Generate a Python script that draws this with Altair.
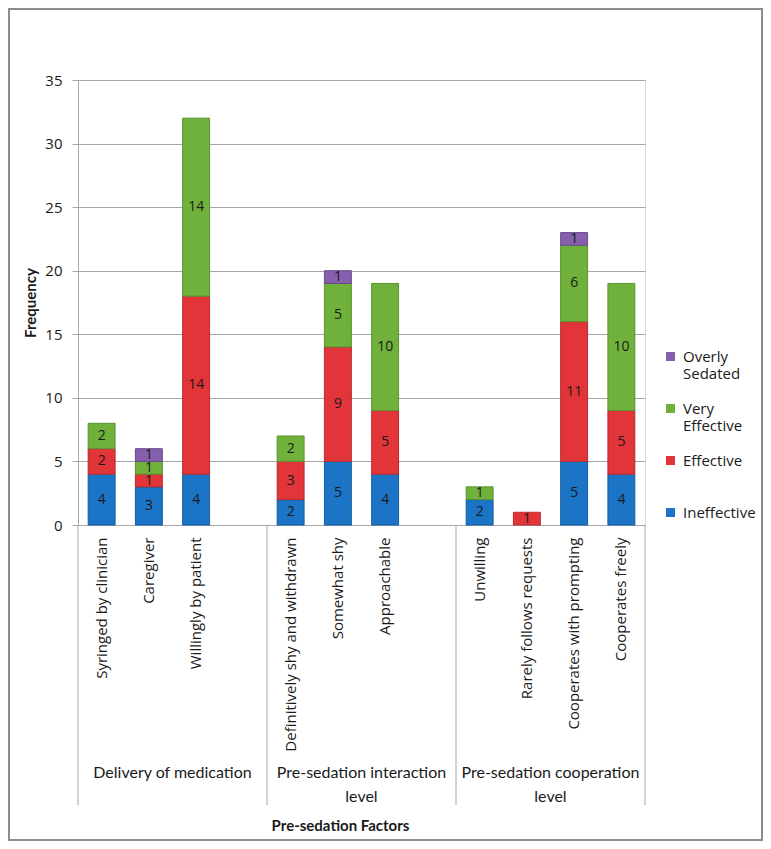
import altair as alt
import pandas as pd

# ---- data ----
groups = ["Delivery of medication",
          "Pre-sedation interaction\nlevel",
          "Pre-sedation cooperation\nlevel"]
group_members = [
    ["Syringed by clinician", "Caregiver", "Willingly by patient"],
    ["Definitively shy and withdrawn", "Somewhat shy", "Approachable"],
    ["Unwilling", "Rarely follows requests", "Cooperates with prompting", "Cooperates freely"],
]
series = ["Ineffective", "Effective", "Very Effective", "Overly Sedated"]
ineffective    = [4, 3, 4, 2, 5, 4, 2, 0, 5, 4]
effective      = [2, 1, 14, 3, 9, 5, 0, 1, 11, 5]
very_effective = [2, 1, 14, 2, 5, 10, 1, 0, 6, 10]
overly_sedated = [0, 1, 0, 0, 1, 0, 0, 0, 1, 0]
colors = ["#1B74C5", "#E2353A", "#6FB13A", "#8560AE"]
edge_colors = ["#155E9F", "#B92A2E", "#5A9130", "#6A4A8D"]
y_ticks = [0, 5, 10, 15, 20, 25, 30, 35]

# ---- build tables ----
categories = [c for g in group_members for c in g]
values_by_series = [ineffective, effective, very_effective, overly_sedated]
rows = []
for si, (s, vals) in enumerate(zip(series, values_by_series)):
    for c, v in zip(categories, vals):
        rows.append({"category": c, "series": s, "order": si, "value": v})
df = pd.DataFrame(rows)

slots_per_group = max(len(g) for g in group_members)
slot_domain = []
for gi, g in enumerate(group_members):
    slot_domain += g + [" " * (gi * slots_per_group + k + 1) for k in range(slots_per_group - len(g))]
n_slots = len(slot_domain)
boundaries = [i * slots_per_group for i in range(len(group_members) + 1)]
centers = [i * slots_per_group + slots_per_group / 2 for i in range(len(group_members))]
sep_df = pd.DataFrame({"pos": boundaries})
grp_df = pd.DataFrame({"center": centers, "group": groups})

GRID = "#A6A6A6"
TXT = "#1a1a1a"
W, H = 567, 445

base = (alt.Chart(df)
        .transform_filter("datum.value > 0")
        .transform_stack(stack="value", groupby=["category"], as_=["y0", "y1"],
                         sort=[alt.SortField("order", order="ascending")])
        .transform_calculate(ymid="(datum.y0 + datum.y1) / 2"))

x_scale = alt.Scale(domain=slot_domain, paddingInner=0.43, paddingOuter=0.215)
x_axis = alt.Axis(title="Pre-sedation Factors", labelAngle=270, labelAlign="right",
                  labelBaseline="middle", labelPadding=12, ticks=False,
                  domainColor=GRID, labelFont="Open Sans", labelFontSize=15,
                  labelColor=TXT, labelLimit=400, titleFont="Lato",
                  titleFontWeight="bold", titleFontSize=15, titleColor=TXT,
                  titleX=262, titleY=300, titleBaseline="middle", titleAlign="center")
y_scale = alt.Scale(domain=[0, 35])
y_axis = alt.Axis(values=y_ticks, title="Frequency", gridColor=GRID, domainColor=GRID,
                  tickColor=GRID, tickSize=6, labelPadding=10, labelFont="Open Sans",
                  labelFontSize=15, labelColor=TXT, titleFont="Lato", titleFontSize=15,
                  titleFontWeight="bold", titleColor=TXT, titlePadding=6)

bars = base.mark_bar(strokeWidth=1).encode(
    x=alt.X("category:N", scale=x_scale, axis=x_axis),
    y=alt.Y("y0:Q", scale=y_scale, axis=y_axis),
    y2="y1:Q",
    color=alt.Color("series:N", scale=alt.Scale(domain=series, range=colors),
                    legend=alt.Legend(orient="none", legendX=585, legendY=269,
                                      values=list(reversed(series)), title=None,
                                      symbolType="square", symbolSize=81, symbolStrokeWidth=0,
                                      labelFont="Open Sans", labelFontSize=15, labelColor=TXT,
                                      labelOffset=5, padding=0, rowPadding=19,
                                      labelExpr="indexof(datum.label, ' ') > 0 ? split(datum.label, ' ') : [datum.label, ' ']")),
    stroke=alt.Stroke("series:N", scale=alt.Scale(domain=series, range=edge_colors), legend=None),
)

labels = base.mark_text(font="Open Sans", fontSize=14, color=TXT, baseline="middle").encode(
    x=alt.X("category:N", scale=x_scale, axis=x_axis),
    y=alt.Y("ymid:Q", scale=y_scale, axis=y_axis),
    text="value:Q",
)

main = alt.layer(bars, labels)

sep = alt.Chart(sep_df).mark_rule(color=GRID).encode(
    x=alt.X("pos:Q", scale=alt.Scale(domain=[0, n_slots]), axis=None),
    y=alt.value(H), y2=alt.value(H + 280),
)

grp = alt.Chart(grp_df).mark_text(font="Lato", fontSize=16, lineBreak="\n", lineHeight=24,
                                  baseline="top", color=TXT).encode(
    x=alt.X("center:Q", scale=alt.Scale(domain=[0, n_slots]), axis=None),
    y=alt.value(H + 240),
    text="group:N",
)

frame = alt.Chart(pd.DataFrame({"k": [0]})).mark_rect(fillOpacity=0, stroke="#8c8c8c", strokeWidth=2).encode(
    x=alt.value(-69), x2=alt.value(W + 117), y=alt.value(-71), y2=alt.value(H + 315),
)

chart = (alt.layer(main, sep, grp, frame)
         .resolve_scale(x="independent")
         .properties(width=W, height=H,
                     autosize=alt.AutoSizeParams(type="none"),
                     padding={"left": 70, "top": 72, "right": 118, "bottom": 316})
         .configure_view(strokeWidth=0)
         .configure(background="white"))

chart.save("out.html", embed_options={"renderer": "svg", "actions": False})
